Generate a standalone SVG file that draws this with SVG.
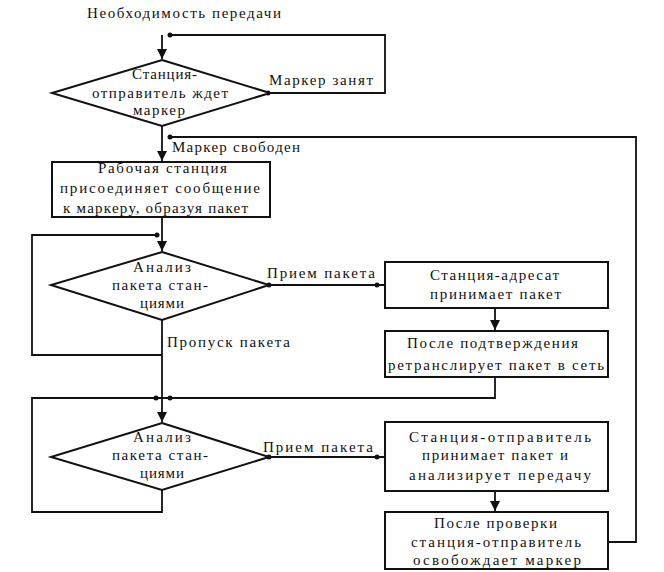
<svg xmlns="http://www.w3.org/2000/svg" width="664" height="572" viewBox="0 0 664 572">
<style>
.t{font-family:"Liberation Serif","Times New Roman",serif;font-size:15px;fill:#111}
.s{fill:#fff;stroke:#111;stroke-width:2}
.c{fill:none;stroke:#111;stroke-width:1.8}
.d{fill:#111}
</style>
<defs>
<marker id="ah" viewBox="0 0 10 10" refX="10" refY="5" markerWidth="10" markerHeight="10" markerUnits="userSpaceOnUse" orient="auto">
<path d="M0,0 L10,5 L0,10 z" fill="#111"/>
</marker>
</defs>
<rect width="664" height="572" fill="#fff"/>
<text class="t" x="87" y="18" textLength="194" lengthAdjust="spacing">Необходимость передачи</text>
<g id="connectors">
<polyline class="c" points="170,35 385,35 385,93 269,93"/>
<polyline class="c" points="162,35 162,59" marker-end="url(#ah)"/>
<polyline class="c" points="162,126 162,161" marker-end="url(#ah)"/>
<polyline class="c" points="609,542 636,542 636,137 170,137"/>
<polyline class="c" points="162,217 162,251" marker-end="url(#ah)"/>
<polyline class="c" points="157,235 32,235 32,355 162,355"/>
<polyline class="c" points="269,285 385,285"/>
<polyline class="c" points="495,308 495,330" marker-end="url(#ah)"/>
<polyline class="c" points="162,320 162,422" marker-end="url(#ah)"/>
<polyline class="c" points="495,377 495,398 32,398 32,512 162,512 162,490"/>
<polyline class="c" points="269,457 385,457"/>
<polyline class="c" points="495,491 495,511" marker-end="url(#ah)"/>
<circle class="d" cx="170" cy="35" r="2.5"/>
<circle class="d" cx="268" cy="93" r="2.5"/>
<circle class="d" cx="170" cy="137" r="2.5"/>
<circle class="d" cx="157" cy="235" r="2.5"/>
<circle class="d" cx="269" cy="285" r="2.5"/>
<circle class="d" cx="377" cy="285" r="2.5"/>
<circle class="d" cx="156" cy="398" r="2.5"/>
<circle class="d" cx="170" cy="398" r="2.5"/>
<circle class="d" cx="269" cy="457" r="2.5"/>
<circle class="d" cx="377" cy="457" r="2.5"/>
<text class="t" x="269" y="85" textLength="104" lengthAdjust="spacing">Маркер занят</text>
<text class="t" x="172" y="152" textLength="128" lengthAdjust="spacing">Маркер свободен</text>
<text class="t" x="267" y="278" textLength="108" lengthAdjust="spacing">Прием пакета</text>
<text class="t" x="167" y="347" textLength="123" lengthAdjust="spacing">Пропуск пакета</text>
<text class="t" x="263" y="452" textLength="110" lengthAdjust="spacing">Прием пакета</text>
</g>
<g id="wait">
<polygon class="s" points="162,60 270,93 162,126 52,93"/>
<text class="t" x="132" y="79" textLength="65" lengthAdjust="spacing">Станция-</text>
<text class="t" x="92" y="98" textLength="136" lengthAdjust="spacing">отправитель ждет</text>
<text class="t" x="133" y="115" textLength="52" lengthAdjust="spacing">маркер</text>
</g>
<g id="attach">
<rect class="s" x="52" y="162" width="218" height="55"/>
<text class="t" x="98" y="173" textLength="129" lengthAdjust="spacing">Рабочая станция</text>
<text class="t" x="60" y="193" textLength="200" lengthAdjust="spacing">присоединяет сообщение</text>
<text class="t" x="63" y="213" textLength="185" lengthAdjust="spacing">к маркеру, образуя пакет</text>
</g>
<g id="analyze1">
<polygon class="s" points="162,252 269,285 162,320 51,285"/>
<text class="t" x="133" y="272" textLength="58" lengthAdjust="spacing">Анализ</text>
<text class="t" x="112" y="290" textLength="96" lengthAdjust="spacing">пакета стан-</text>
<text class="t" x="140" y="308" textLength="44" lengthAdjust="spacing">циями</text>
</g>
<g id="receive">
<rect class="s" x="385" y="262" width="223" height="46"/>
<text class="t" x="430" y="280" textLength="129" lengthAdjust="spacing">Станция-адресат</text>
<text class="t" x="430" y="299" textLength="131" lengthAdjust="spacing">принимает пакет</text>
</g>
<g id="retransmit">
<rect class="s" x="385" y="331" width="223" height="46"/>
<text class="t" x="407" y="348" textLength="171" lengthAdjust="spacing">После подтверждения</text>
<text class="t" x="388" y="370" textLength="216" lengthAdjust="spacing">ретранслирует пакет в сеть</text>
</g>
<g id="analyze2">
<polygon class="s" points="162,423 269,457 162,490 51,457"/>
<text class="t" x="133" y="442" textLength="58" lengthAdjust="spacing">Анализ</text>
<text class="t" x="112" y="460" textLength="96" lengthAdjust="spacing">пакета стан-</text>
<text class="t" x="140" y="478" textLength="44" lengthAdjust="spacing">циями</text>
</g>
<g id="sender-receive">
<rect class="s" x="385" y="422" width="223" height="69"/>
<text class="t" x="409" y="442" textLength="182" lengthAdjust="spacing">Станция-отправитель</text>
<text class="t" x="422" y="460" textLength="146" lengthAdjust="spacing">принимает пакет и</text>
<text class="t" x="409" y="480" textLength="182" lengthAdjust="spacing">анализирует передачу</text>
</g>
<g id="release">
<rect class="s" x="385" y="512" width="223" height="57"/>
<text class="t" x="434" y="528" textLength="123" lengthAdjust="spacing">После проверки</text>
<text class="t" x="411" y="547" textLength="170" lengthAdjust="spacing">станция-отправитель</text>
<text class="t" x="413" y="565" textLength="168" lengthAdjust="spacing">освобождает маркер</text>
</g>
</svg>
